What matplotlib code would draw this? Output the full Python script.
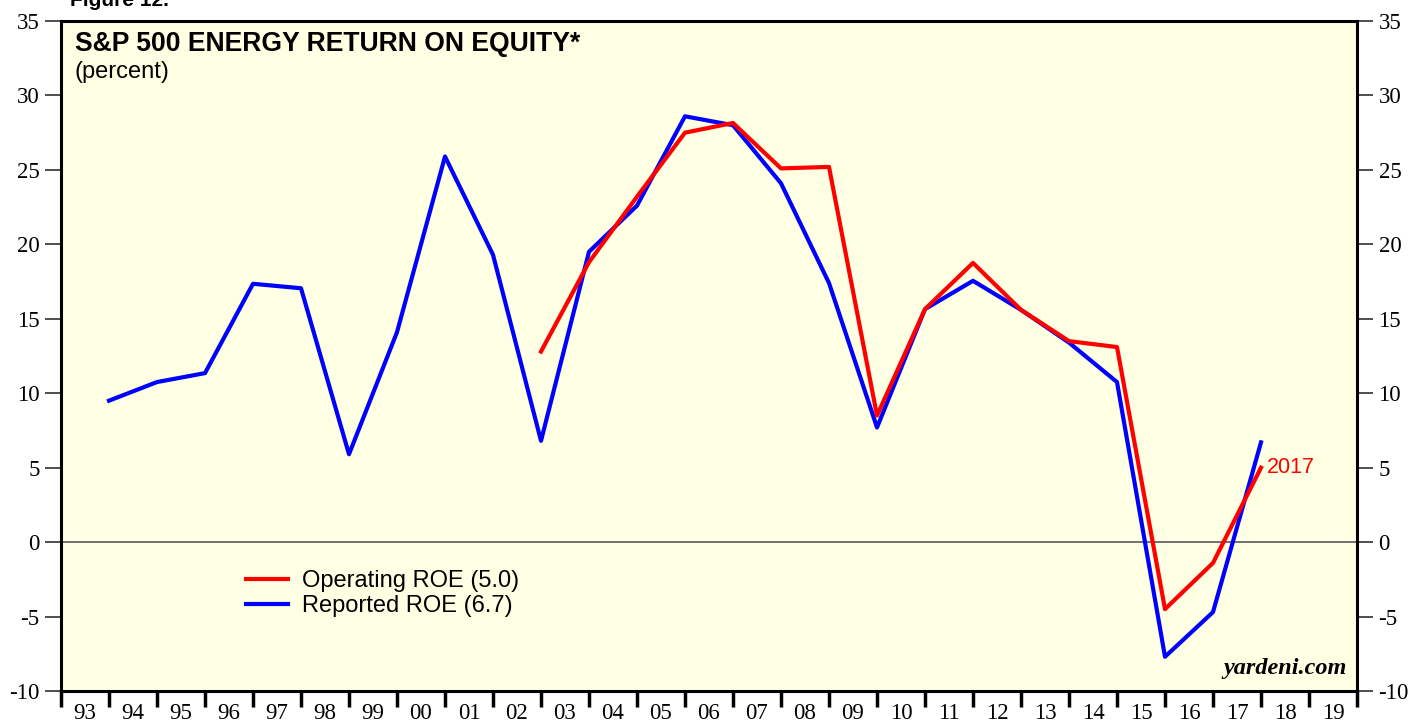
import matplotlib
matplotlib.use("Agg")
import matplotlib.pyplot as plt
import numpy as np

# annual values, plotted at year end
years = np.arange(1993, 2018)
reported = [9.5, 10.75, 11.35, 17.35, 17.05, 5.9, 14.1, 25.9, 19.3, 6.8,
            19.5, 22.6, 28.6, 28.0, 24.1, 17.4, 7.7, 15.65, 17.55, 15.6,
            13.4, 10.75, -7.7, -4.7, 6.7]
op_years = np.arange(2002, 2018)
operating = [12.8, 18.8, 23.2, 27.5, 28.15, 25.1, 25.2, 8.5, 15.65, 18.75,
             15.6, 13.5, 13.1, -4.5, -1.4, 5.0]

year_labels = [f"{y % 100:02d}" for y in range(1993, 2020)]

plt.rcParams["axes.unicode_minus"] = False
SANS = ["Liberation Sans", "DejaVu Sans"]
SERIF = ["Liberation Serif", "DejaVu Serif"]

fig = plt.figure(figsize=(14.08, 7.21), dpi=100)
ax = fig.add_axes([61 / 1408, 30 / 721, 1296 / 1408, 670 / 721])
ax.set_facecolor("#ffffe3")

ax.axhline(0, color="#707070", lw=1.4, zorder=1)
ax.plot(op_years + 1, operating, color="#ff0000", lw=3, label="Operating ROE (5.0)", zorder=3)
ax.plot(years + 1, reported, color="#0000ff", lw=3, label="Reported ROE (6.7)", zorder=2)

ax.set_xlim(1993, 2020)
ax.set_ylim(-10, 35)

# y axis on both sides
ax.set_yticks(np.arange(-10, 36, 5))
ax.tick_params(axis="y", which="major", left=True, right=True, labelleft=True, labelright=True,
               direction="out", length=11.5, width=1.3, color="#404040", pad=4, labelsize=16.5)
for lab in ax.get_yticklabels():
    lab.set_family(SERIF)

# x axis: ticks at year bounds, labels centred in each year
ax.set_xticks(np.arange(1993, 2021))
ax.set_xticklabels([])
ax.set_xticks(np.arange(1993, 2020) + 0.5, minor=True)
ax.set_xticklabels(year_labels, minor=True, family=SERIF, fontsize=16.5)
ax.tick_params(axis="x", which="major", direction="out", length=11.5, width=2.5, color="black")
ax.tick_params(axis="x", which="minor", length=0, pad=8.5)

for s in ax.spines.values():
    s.set_linewidth(2.2)
    s.set_color("black")

ax.text(0.0105, 0.985, "S&P 500 ENERGY RETURN ON EQUITY*", transform=ax.transAxes,
        fontsize=19.1, fontweight="bold", family=SANS, va="top", ha="left")
ax.text(0.0105, 0.94, "(percent)", transform=ax.transAxes,
        fontsize=17, family=SANS, va="top", ha="left")
ax.text(2018.12, operating[-1], "2017", color="#ff0000", fontsize=15.5, family=SANS,
        va="center", ha="left")
ax.text(0.992, 0.018, "yardeni.com", transform=ax.transAxes, fontsize=17.5,
        fontweight="bold", style="italic", family=SERIF, ha="right", va="bottom")

leg = ax.legend(loc="upper left", bbox_to_anchor=(0.128, 0.209), frameon=False,
                prop={"family": SANS, "size": 17}, handlelength=1.8, handletextpad=0.6,
                labelspacing=0.15, borderpad=0.3)

fig.text(70 / 1408, 1 - 6 / 721, "Figure 12.", fontsize=15, fontweight="bold",
         family=SANS, va="baseline", ha="left")

fig.savefig("out.png", dpi=100)
